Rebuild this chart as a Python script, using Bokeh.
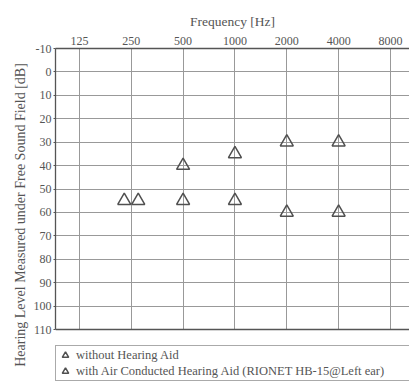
from bokeh.plotting import figure
from bokeh.models import (FixedTicker, Legend, LegendItem, Span, Range1d, BoxAnnotation)
from bokeh.embed import file_html
from bokeh.resources import INLINE

# ---- data ----
freq_ticks = [125, 250, 500, 1000, 2000, 4000, 8000]
db_ticks = list(range(-10, 111, 10))
freq = [250, 500, 1000, 2000, 4000]
without_aid = [55, 55, 55, 60, 60]
with_aid = [55, 40, 35, 30, 30]
label_without = "without Hearing Aid"
label_with = "with Air Conducted Hearing Aid (RIONET HB-15@Left ear)"

# dodge coincident points a little (in octaves) so both triangles stay visible
dodge_oct = 0.135
x_without, x_with = [], []
for f, a, b in zip(freq, without_aid, with_aid):
    if a == b:
        x_without.append(f * 2 ** (-dodge_oct))
        x_with.append(f * 2 ** (dodge_oct))
    else:
        x_without.append(f)
        x_with.append(f)

FONT = "Liberation Serif"
TXT = "#555555"
GRID = "#999999"
MARK = "#505050"
BORDER = "#555555"

DB_MIN, DB_MAX = db_ticks[0], db_ticks[-1]
# frame continues below the audiogram to host the legend box
DB_FRAME_BOTTOM = 132.2

p = figure(width=409, height=381, output_backend="svg", toolbar_location=None,
           x_axis_type="log", x_axis_location="above",
           x_range=Range1d(90.8, 10318), y_range=Range1d(DB_FRAME_BOTTOM, DB_MIN),
           min_border_left=55, min_border_top=48, min_border_bottom=0,
           min_border_right=0)
p.outline_line_color = None
p.background_fill_color = "white"

# axes
xa = p.xaxis[0]
xa.ticker = FixedTicker(ticks=freq_ticks)
xa.major_label_overrides = {t: str(t) for t in freq_ticks}
xa.axis_label = "Frequency [Hz]"
xa.minor_tick_line_color = None
xa.major_tick_out = 0
xa.major_tick_in = 0
xa.major_label_standoff = 4
xa.axis_label_standoff = 5
xa.axis_label_text_font_size = "13.5px"

ya = p.yaxis[0]
ya.ticker = FixedTicker(ticks=db_ticks)
ya.bounds = (DB_MIN, DB_MAX)
ya.major_label_overrides = {t: str(t) for t in db_ticks}
ya.axis_label = "Hearing Level Measured under Free Sound Field [dB]"
ya.minor_tick_line_color = None
ya.major_tick_out = 2
ya.major_tick_in = 0
ya.major_label_standoff = 2
ya.axis_label_standoff = 3
ya.axis_label_text_font_size = "14px"

for ax in (xa, ya):
    ax.axis_line_color = BORDER
    ax.axis_line_width = 1.3
    ax.major_tick_line_color = BORDER
    ax.major_label_text_font = FONT
    ax.major_label_text_font_size = "12px"
    ax.major_label_text_color = TXT
    ax.axis_label_text_font = FONT
    ax.axis_label_text_font_style = "normal"
    ax.axis_label_text_color = TXT

p.xgrid.ticker = FixedTicker(ticks=freq_ticks)
p.ygrid.ticker = FixedTicker(ticks=db_ticks)
p.xgrid.grid_line_color = GRID
p.ygrid.grid_line_color = GRID
p.xgrid.grid_line_width = 1
p.ygrid.grid_line_width = 1

# blank area under the audiogram (hides the grid there)
p.add_layout(BoxAnnotation(top=DB_MAX, bottom=DB_FRAME_BOTTOM, fill_color="white",
                           fill_alpha=1.0, line_color=None, level="underlay"))
# bottom border of the audiogram
p.add_layout(Span(location=DB_MAX, dimension="width", line_color=BORDER, line_width=1.3))

r1 = p.scatter(x_without, without_aid, marker="triangle", size=13,
               line_color=MARK, line_width=1.5, fill_color=None)
r2 = p.scatter(x_with, with_aid, marker="triangle", size=13,
               line_color=MARK, line_width=1.5, fill_color=None)

legend = Legend(items=[LegendItem(label=label_without, renderers=[r1]),
                       LegendItem(label=label_with, renderers=[r2])],
                location=(0, 0), orientation="vertical",
                label_text_font=FONT, label_text_font_size="12.5px",
                label_text_color=TXT, label_standoff=3,
                glyph_width=16, glyph_height=16, label_height=14,
                spacing=0, padding=1, margin=0, label_width=340,
                border_line_color=BORDER, border_line_width=1.2,
                background_fill_color="white", background_fill_alpha=1.0)
p.add_layout(legend, "center")

open("out.html", "w").write(file_html(p, INLINE))
